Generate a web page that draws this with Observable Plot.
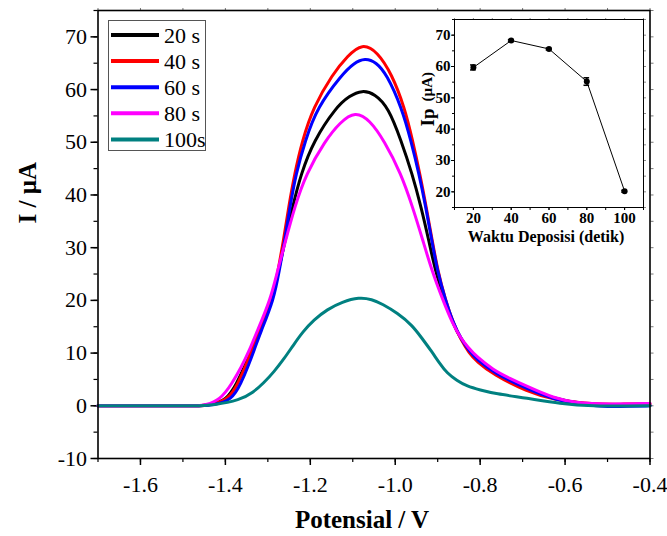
<!DOCTYPE html>
<html>
<head>
<meta charset="utf-8">
<script src="https://cdn.jsdelivr.net/npm/d3@7"></script>
<script src="https://cdn.jsdelivr.net/npm/@observablehq/plot@0.6"></script>
<style>
  body { margin: 0; background: #fff; }
  #wrap { position: relative; width: 667px; height: 536px; font-family: "Liberation Serif", "Times New Roman", serif; }
  #wrap > svg, #wrap > div { position: absolute; }
  #wrap svg text { font-family: "Liberation Serif", "Times New Roman", serif; }
</style>
</head>
<body>
<div id="wrap"></div>
<script>
// ---------- data ----------
const seriesNames = ["20 s", "40 s", "60 s", "80 s", "100s"];
const seriesColors = ["#000000", "#ff0000", "#0000ff", "#ff00ff", "#008080"];

const pot20 = [-1.70, -1.50, -1.46, -1.44, -1.396, -1.373, -1.355, -1.338, -1.322, -1.290, -1.275, -1.259, -1.242, -1.222, -1.192, -1.140, -1.108, -1.078, -1.048, -1.016, -0.986, -0.960, -0.939, -0.921, -0.906, -0.884, -0.864, -0.846, -0.827, -0.808, -0.769, -0.690, -0.627, -0.55, -0.48, -0.40];
const cur20 = [0, 0, 0, 0.1, 1.1, 4.3, 7.4, 10.6, 13.8, 20.1, 25.7, 31.4, 37.7, 44.0, 50.3, 56.6, 58.8, 59.9, 59.2, 56.6, 50.3, 44.0, 37.7, 31.4, 25.7, 20.1, 15.6, 12.8, 10.6, 9.0, 6.5, 3.4, 1.3, 0.2, 0.1, 0.1];

const pot40 = [-1.70, -1.50, -1.46, -1.44, -1.392, -1.370, -1.353, -1.337, -1.321, -1.289, -1.276, -1.263, -1.251, -1.237, -1.219, -1.193, -1.148, -1.112, -1.078, -1.042, -1.008, -0.978, -0.959, -0.942, -0.927, -0.913, -0.900, -0.882, -0.863, -0.845, -0.826, -0.808, -0.769, -0.690, -0.627, -0.533, -0.47, -0.40];
const cur40 = [0, 0, 0, 0.1, 1.1, 4.3, 7.4, 10.6, 13.8, 20.1, 25.7, 31.4, 37.7, 44.0, 50.3, 56.6, 62.9, 66.4, 68.8, 67.2, 62.9, 56.6, 50.3, 44.0, 37.7, 31.4, 25.7, 20.1, 15.6, 12.5, 10.0, 8.4, 5.9, 2.7, 1.1, 0.3, 0.3, 0.4];

const pot60 = [-1.70, -1.50, -1.46, -1.43, -1.384, -1.363, -1.347, -1.332, -1.318, -1.286, -1.273, -1.260, -1.248, -1.234, -1.212, -1.184, -1.125, -1.098, -1.071, -1.045, -1.020, -0.985, -0.963, -0.944, -0.928, -0.914, -0.901, -0.882, -0.863, -0.845, -0.826, -0.808, -0.769, -0.690, -0.627, -0.55, -0.50, -0.45, -0.40];
const cur60 = [0, 0, 0, 0.1, 1.1, 4.3, 7.4, 10.6, 13.8, 20.1, 25.7, 31.4, 37.7, 44.0, 50.3, 56.6, 62.9, 65.0, 66.0, 65.2, 62.9, 56.6, 50.3, 44.0, 37.7, 31.4, 25.7, 20.1, 15.6, 12.7, 10.4, 8.8, 6.3, 3.2, 1.2, 0.1, -0.2, -0.1, 0.0];

const pot80 = [-1.70, -1.50, -1.46, -1.45, -1.412, -1.384, -1.362, -1.343, -1.327, -1.294, -1.277, -1.258, -1.237, -1.210, -1.165, -1.130, -1.094, -1.060, -1.026, -0.986, -0.959, -0.935, -0.914, -0.888, -0.865, -0.847, -0.828, -0.808, -0.769, -0.730, -0.690, -0.627, -0.572, -0.50, -0.40];
const cur80 = [0, 0, 0, 0.1, 1.1, 4.3, 7.4, 10.6, 13.8, 20.1, 25.7, 31.4, 37.7, 44.0, 50.3, 53.8, 55.9, 54.2, 50.3, 44.0, 37.7, 31.4, 25.7, 20.1, 15.6, 13.0, 11.0, 9.3, 6.8, 5.2, 3.7, 1.45, 0.5, 0.3, 0.45];

const pot100 = [-1.70, -1.50, -1.46, -1.43, -1.365, -1.335, -1.310, -1.285, -1.262, -1.240, -1.218, -1.192, -1.160, -1.125, -1.085, -1.055, -1.030, -0.995, -0.960, -0.937, -0.915, -0.895, -0.878, -0.855, -0.831, -0.800, -0.765, -0.690, -0.612, -0.533, -0.45, -0.40];
const cur100 = [0, 0, 0, 0.1, 1.1, 2.5, 4.3, 6.5, 8.9, 11.5, 14.0, 16.3, 18.3, 19.7, 20.6, 20.2, 19.3, 17.6, 15.3, 12.8, 10.4, 8.0, 6.2, 4.8, 3.7, 3.0, 2.3, 1.45, 0.4, -0.1, 0.0, 0.0];

const xTicks = [-1.6, -1.4, -1.2, -1.0, -0.8, -0.6, -0.4];
const yTicks = [-10, 0, 10, 20, 30, 40, 50, 60, 70];
const xTitle = "Potensial / V";
const yTitle = "I / µA";

// inset
const insetTime = [20, 40, 60, 80, 100];
const insetIp = [59.7, 68.3, 65.6, 55.2, 20.2];
const insetErr = [0.8, 0.3, 0.3, 1.2, 0.3];
const insetXTicks = [20, 40, 60, 80, 100];
const insetYTicks = [20, 30, 40, 50, 60, 70];
const insetXTitle = "Waktu Deposisi (detik)";

// ---------- build ----------
const potList = [pot20, pot40, pot60, pot80, pot100];
const curList = [cur20, cur40, cur60, cur80, cur100];
const rows = [];
seriesNames.forEach((s, i) => {
  potList[i].forEach((p, j) => rows.push({s, pot: p, cur: curList[i][j]}));
});

const serif = "Liberation Serif, Times New Roman, serif";
const xMinor = d3.range(-1.7, -0.39, 0.1).map(v => +v.toFixed(2));
const yMinor = d3.range(-10, 75.1, 5);

const main = Plot.plot({
  width: 667, height: 536,
  marginLeft: 97.5, marginRight: 17.5, marginTop: 10, marginBottom: 78,
  style: {fontFamily: serif, fontSize: "22px", color: "#000", background: "transparent", overflow: "visible"},
  x: {domain: [-1.7, -0.4]},
  y: {domain: [-10, 75]},
  color: {domain: seriesNames, range: seriesColors},
  marks: [
    Plot.axisX({ticks: xMinor, tickSize: 4, text: null, label: null, strokeWidth: 1.2}),
    Plot.axisX({ticks: xTicks, tickSize: 7, tickPadding: 11, tickFormat: d => d.toFixed(1), label: null, strokeWidth: 1.5, fontSize: 22, fontFamily: serif}),
    Plot.axisX({anchor: "top", ticks: xMinor, tickSize: 3, text: null, label: null, stroke: "#777"}),
    Plot.axisY({ticks: yMinor, tickSize: 4, text: null, label: null, strokeWidth: 1.2}),
    Plot.axisY({ticks: yTicks, tickSize: 7, tickPadding: 4, tickFormat: d => String(d), label: null, strokeWidth: 1.5, fontSize: 22, fontFamily: serif}),
    Plot.axisY({anchor: "right", ticks: yMinor, tickSize: 3, text: null, label: null, stroke: "#777"}),
    Plot.line(rows, {x: "pot", y: "cur", z: "s", stroke: "s", strokeWidth: 3, curve: "basis"}),
    Plot.frame({stroke: "#000", strokeWidth: 1.6}),
    Plot.text([yTitle], {frameAnchor: "left", dx: -70, dy: -11, rotate: -90, fontWeight: "bold", fontSize: 25, fill: "#000", fontFamily: serif}),
    Plot.text([xTitle], {frameAnchor: "bottom", dx: -12, dy: 69, fontWeight: "bold", fontSize: 25, fill: "#000", fontFamily: serif})
  ]
});

const insetRows = insetTime.map((t, i) => ({t, ip: insetIp[i], lo: insetIp[i] - insetErr[i], hi: insetIp[i] + insetErr[i]}));
const inset = Plot.plot({
  width: 267, height: 260,
  marginLeft: 54, marginRight: 24, marginTop: 19, marginBottom: 53,
  style: {fontFamily: serif, fontSize: "14px", fontWeight: "bold", color: "#000", background: "transparent", overflow: "visible"},
  x: {domain: [10, 110]},
  y: {domain: [15, 75]},
  marks: [
    Plot.axisX({ticks: d3.range(10, 111, 10), tickSize: 3, text: null, label: null}),
    Plot.axisX({ticks: insetXTicks, tickSize: 3, tickPadding: 2, label: null, fontSize: 15, fontWeight: "bold", letterSpacing: "-1.2px", fontFamily: serif}),
    Plot.axisX({anchor: "top", ticks: d3.range(10, 111, 10), tickSize: 2, text: null, label: null, stroke: "#888"}),
    Plot.axisY({ticks: d3.range(15, 75.1, 5), tickSize: 2, text: null, label: null}),
    Plot.axisY({ticks: insetYTicks, tickSize: 3, tickPadding: 1, label: null, fontSize: 15, fontWeight: "bold", letterSpacing: "-1.2px", fontFamily: serif}),
    Plot.axisY({anchor: "right", ticks: d3.range(15, 75.1, 5), tickSize: 2, text: null, label: null, stroke: "#888"}),
    Plot.line(insetRows, {x: "t", y: "ip", stroke: "#000", strokeWidth: 1}),
    Plot.ruleX(insetRows, {x: "t", y1: "lo", y2: "hi", stroke: "#000", strokeWidth: 1.5}),
    Plot.ruleY(insetRows, {y: "lo", x1: d => d.t - 1.5, x2: d => d.t + 1.5, stroke: "#000", strokeWidth: 1.5}),
    Plot.ruleY(insetRows, {y: "hi", x1: d => d.t - 1.5, x2: d => d.t + 1.5, stroke: "#000", strokeWidth: 1.5}),
    Plot.dot(insetRows, {x: "t", y: "ip", r: 3, fill: "#000", stroke: null}),
    Plot.frame({stroke: "#000", strokeWidth: 1}),
    Plot.text(["Ip"], {frameAnchor: "left", dx: -27, dy: 13, rotate: -90, fontSize: 19, fontWeight: "bold", fill: "#000", fontFamily: serif}),
    Plot.text(["(µA)"], {frameAnchor: "left", dx: -27, dy: -12, rotate: -90, fontSize: 15, fontWeight: "bold", fill: "#000", fontFamily: serif}),
    Plot.text([insetXTitle], {frameAnchor: "bottom", dx: -3, dy: 34, fontSize: 16, fontWeight: "bold", fill: "#000", letterSpacing: "-1.3px", fontFamily: serif})
  ]
});

const wrap = document.getElementById("wrap");
main.style.left = "0px"; main.style.top = "0px";
inset.style.left = "400px"; inset.style.top = "0px";
wrap.appendChild(main);
wrap.appendChild(inset);

// legend
const lg = d3.select(wrap).append("svg")
  .attr("width", 100).attr("height", 134)
  .style("left", "107px").style("top", "19px")
  .attr("font-family", serif);
lg.append("rect").attr("x", 1.5).attr("y", 1.5).attr("width", 97).attr("height", 130)
  .attr("fill", "#fff").attr("stroke", "#555").attr("stroke-width", 1);
seriesNames.forEach((s, i) => {
  const cy = 16 + i * 26.1;
  lg.append("line").attr("x1", 4).attr("x2", 52).attr("y1", cy).attr("y2", cy)
    .attr("stroke", seriesColors[i]).attr("stroke-width", 4);
  lg.append("text").attr("x", 57).attr("y", cy).attr("dy", "0.35em")
    .attr("font-size", 22).attr("fill", "#000").text(s);
});
</script>
</body>
</html>
